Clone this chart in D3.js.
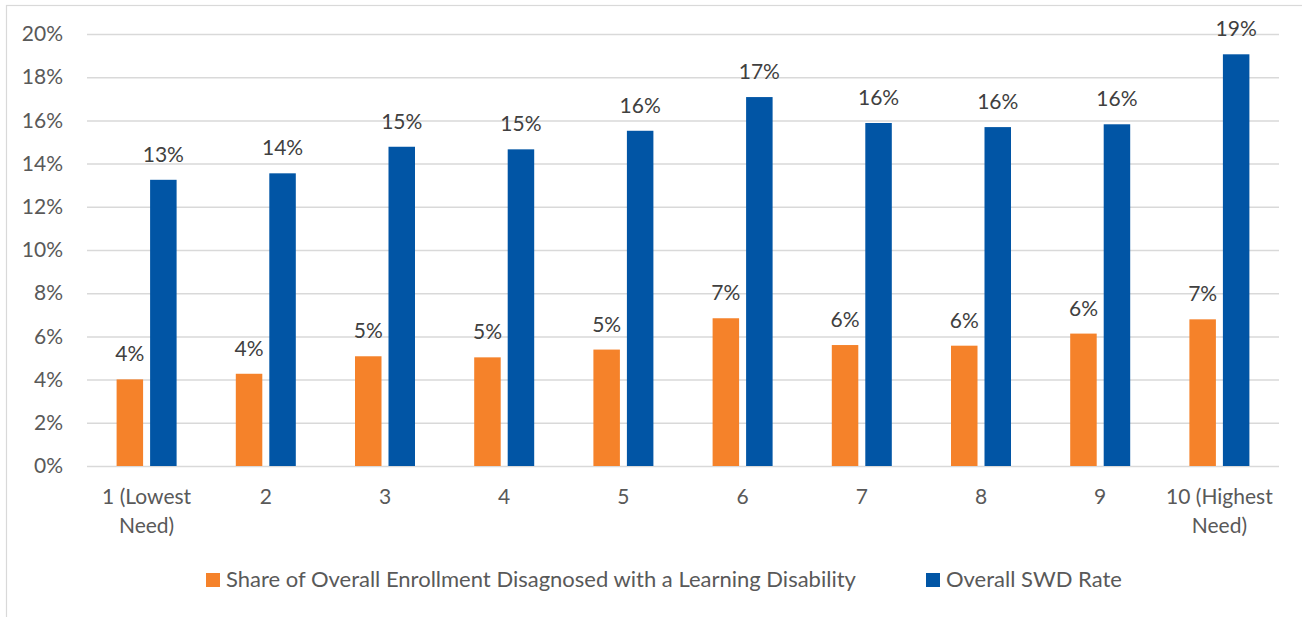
<!DOCTYPE html>
<html>
<head>
<meta charset="utf-8">
<script src="https://cdn.jsdelivr.net/npm/d3@7"></script>
<style>
  html, body { margin: 0; padding: 0; background: #ffffff; }
  svg { display: block; font-family: Lato, "Open Sans", sans-serif; }
</style>
</head>
<body>
<svg id="chart" width="1302" height="617"></svg>
<script>
// ---- data ----
const categories = ["1 (Lowest Need)", "2", "3", "4", "5", "6", "7", "8", "9", "10 (Highest Need)"];
const seriesNames = ["Share of Overall Enrollment Disagnosed with a Learning Disability", "Overall SWD Rate"];
const learningDisability = [0.0401, 0.0427, 0.0508, 0.0503, 0.0539, 0.0684, 0.0560, 0.0557, 0.0613, 0.0679];
const swdRate = [0.1325, 0.1355, 0.1478, 0.1466, 0.1552, 0.1708, 0.1588, 0.1569, 0.1582, 0.1906];
const yTicks = [0, 0.02, 0.04, 0.06, 0.08, 0.10, 0.12, 0.14, 0.16, 0.18, 0.20];
const colors = ["#F5822A", "#0155A5"];

const seriesValues = [learningDisability, swdRate];
const svg = d3.select("#chart");
const FONT = "Lato, 'Open Sans', sans-serif";
const FS = 21;

// frame
svg.append("rect")
  .attr("x", 6.5).attr("y", 5.5)
  .attr("width", 1400).attr("height", 700)
  .attr("fill", "none").attr("stroke", "#d9d9d9").attr("stroke-width", 1.2);

const x = d3.scaleBand().domain(categories).range([87, 1279]).padding(0);
const y = d3.scaleLinear().domain([0, 0.2]).range([466, 34]);
const x1 = d3.scaleBand().domain(d3.range(seriesNames.length)).paddingInner(0.209).paddingOuter(0);

const fmt = d3.format(".0%");

// y axis (gridlines + labels)
const yAxis = d3.axisLeft(y).tickValues(yTicks).tickFormat(fmt)
  .tickSize(-(1279 - 87)).tickPadding(24);
const gy = svg.append("g").attr("transform", "translate(87,0)").call(yAxis);
gy.select(".domain").remove();
gy.selectAll(".tick line").attr("stroke", "#d9d9d9").attr("stroke-width", 1.5);
gy.selectAll(".tick text")
  .attr("fill", "#595959").attr("font-size", FS).attr("font-family", FONT);

// x axis labels
const xAxis = d3.axisBottom(x).tickSize(0).tickPadding(0);
const gx = svg.append("g").attr("transform", "translate(0,466)").call(xAxis);
gx.select(".domain").remove();
gx.selectAll(".tick text")
  .attr("fill", "#595959").attr("font-size", FS).attr("font-family", FONT)
  .each(function(d) {
    const t = d3.select(this);
    let lines = [d];
    if (d.indexOf(" (") >= 0) {
      const lastSpace = d.lastIndexOf(" ");
      lines = [d.slice(0, lastSpace), d.slice(lastSpace + 1)];
    }
    t.text(null).attr("y", 0).attr("dy", null);
    lines.forEach((ln, i) => {
      t.append("tspan").attr("x", 0).attr("y", 38 + i * 29).text(ln);
    });
  });

// bars
const groups = svg.append("g").selectAll("g")
  .data(categories)
  .join("g")
  .attr("transform", d => `translate(${x(d) + x.bandwidth() / 2},0)`);

x1.range([-30, 30]);

groups.selectAll("rect")
  .data((d, i) => seriesValues.map((vals, s) => ({ s, v: vals[i] })))
  .join("rect")
  .attr("x", d => x1(d.s))
  .attr("width", x1.bandwidth())
  .attr("y", d => y(d.v))
  .attr("height", d => y(0) - y(d.v))
  .attr("fill", d => colors[d.s]);

groups.selectAll("text.lbl")
  .data((d, i) => seriesValues.map((vals, s) => ({ s, v: vals[i] })))
  .join("text")
  .attr("class", "lbl")
  .attr("x", d => x1(d.s) + x1.bandwidth() / 2)
  .attr("y", d => y(d.v) - 18)
  .attr("text-anchor", "middle")
  .attr("font-size", FS)
  .attr("fill", "#404040")
  .text(d => fmt(d.v));

// legend
const legendX = [206, 926];
const leg = svg.append("g").selectAll("g")
  .data(seriesNames)
  .join("g")
  .attr("transform", (d, i) => `translate(${legendX[i]},573)`);
leg.append("rect").attr("width", 14).attr("height", 14).attr("fill", (d, i) => colors[i]);
leg.append("text").attr("x", 20).attr("y", 14)
  .attr("font-size", 22).attr("fill", "#595959").text(d => d);
</script>
</body>
</html>
